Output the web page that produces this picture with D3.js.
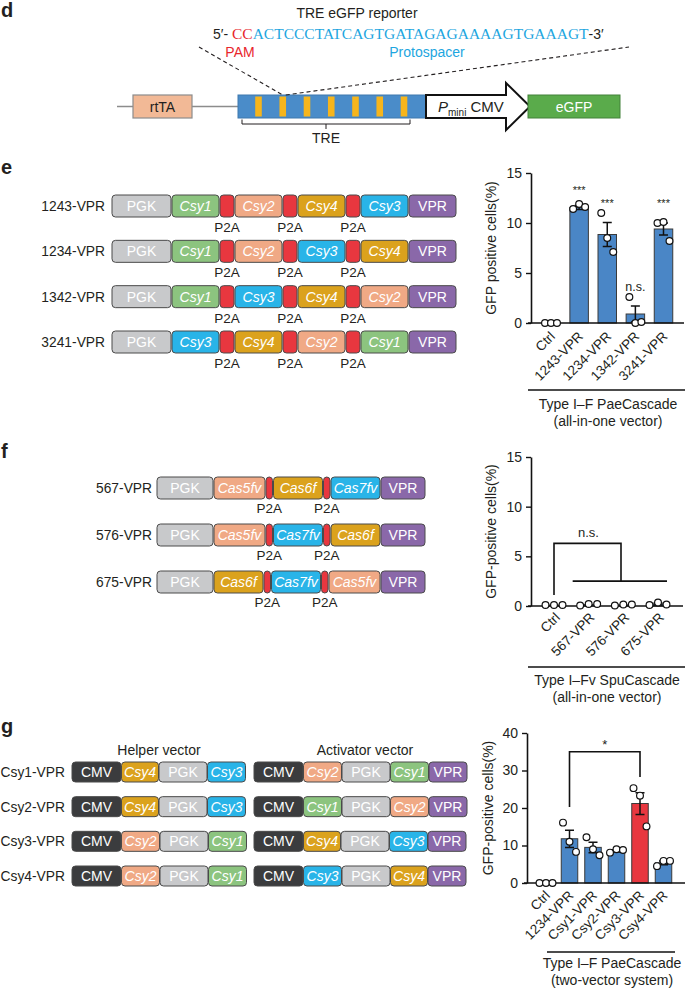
<!DOCTYPE html>
<html><head><meta charset="utf-8">
<script src="https://cdn.jsdelivr.net/npm/d3@7/dist/d3.min.js"></script>
<style>
html,body{margin:0;padding:0;background:#fff;}
svg{display:block;font-family:"Liberation Sans",Arial,sans-serif;}
</style></head><body>
<svg id="fig" width="685" height="989"></svg>
<script>
// ---------------- DATA ----------------
// Panel d
const seqPAM = "CC";
const seqProtospacer = "ACTCCCTATCAGTGATAGAGAAAAGTGAAAGT";
const treSites = [1, 2, 3, 4, 5, 6, 7];

// Panel e constructs
const eConstructNames = ["1243-VPR", "1234-VPR", "1342-VPR", "3241-VPR"];
const eConstructParts = [
  ["PGK", "Csy1", "P2A", "Csy2", "P2A", "Csy4", "P2A", "Csy3", "VPR"],
  ["PGK", "Csy1", "P2A", "Csy2", "P2A", "Csy3", "P2A", "Csy4", "VPR"],
  ["PGK", "Csy1", "P2A", "Csy3", "P2A", "Csy4", "P2A", "Csy2", "VPR"],
  ["PGK", "Csy3", "P2A", "Csy4", "P2A", "Csy2", "P2A", "Csy1", "VPR"]
];
// Panel e chart
const eCategories = ["Ctrl", "1243-VPR", "1234-VPR", "1342-VPR", "3241-VPR"];
const eMeans = [0, 11.55, 8.85, 0.9, 9.4];
const eErrors = [0, 0.2, 1.2, 0.8, 0.6];
const eDots = [[0, 0, 0], [11.4, 11.9, 11.6], [11.0, 8.5, 7.1], [2.6, 0, 0.1], [10.0, 10.1, 8.2]];
const eSignif = ["", "***", "***", "n.s.", "***"];
const eSignifLevel = [0, 13.3, 12.0, 3.6, 12.0];
const eTicks = [0, 5, 10, 15];

// Panel f constructs
const fConstructNames = ["567-VPR", "576-VPR", "675-VPR"];
const fConstructParts = [
  ["PGK", "Cas5fv", "P2A", "Cas6f", "P2A", "Cas7fv", "VPR"],
  ["PGK", "Cas5fv", "P2A", "Cas7fv", "P2A", "Cas6f", "VPR"],
  ["PGK", "Cas6f", "P2A", "Cas7fv", "P2A", "Cas5fv", "VPR"]
];
// Panel f chart
const fCategories = ["Ctrl", "567-VPR", "576-VPR", "675-VPR"];
const fMeans = [0.1, 0.15, 0.12, 0.2];
const fErrors = [0.02, 0.05, 0.05, 0.1];
const fDots = [[0.1, 0.1, 0.1], [0.05, 0.2, 0.2], [0.05, 0.15, 0.15], [0.1, 0.35, 0.15]];
const fTicks = [0, 5, 10, 15];
const fBracket = { top: 6.3, left: 1.1, right: 2.5, label: "n.s." };

// Panel g constructs
const gConstructNames = ["Csy1-VPR", "Csy2-VPR", "Csy3-VPR", "Csy4-VPR"];
const gHelperParts = [
  ["CMV", "Csy4", "PGK", "Csy3"],
  ["CMV", "Csy4", "PGK", "Csy3"],
  ["CMV", "Csy2", "PGK", "Csy1"],
  ["CMV", "Csy2", "PGK", "Csy1"]
];
const gActivatorParts = [
  ["CMV", "Csy2", "PGK", "Csy1", "VPR"],
  ["CMV", "Csy1", "PGK", "Csy2", "VPR"],
  ["CMV", "Csy4", "PGK", "Csy3", "VPR"],
  ["CMV", "Csy3", "PGK", "Csy4", "VPR"]
];
// Panel g chart
const gCategories = ["Ctrl", "1234-VPR", "Csy1-VPR", "Csy2-VPR", "Csy3-VPR", "Csy4-VPR"];
const gMeans = [0, 11.8, 9.5, 8.6, 21.2, 5.4];
const gErrors = [0, 2.3, 1.4, 0.3, 2.9, 0.5];
const gDots = [[0, 0, 0], [16.1, 11.0, 8.3], [12.2, 9.0, 7.4], [8.1, 9.0, 8.8], [25.3, 23.3, 15.1], [4.5, 5.9, 5.9]];
const gTicks = [0, 10, 20, 30, 40];
const gBracket = { top: 35, left: 20.3, right: 28.3, label: "*", labelLevel: 37.3 };

// ---------------- STYLE ----------------
const TXT = "#231f20";
const SERIF = "'Liberation Serif','Times New Roman',serif";
const partStyle = {
  PGK: { fill: "#c8c9cb", italic: false },
  CMV: { fill: "#3b3c3e", italic: false },
  VPR: { fill: "#8a68a9", italic: false },
  P2A: { fill: "#e8373f", italic: false, noText: true },
  Csy1: { fill: "#8cc47f", italic: true },
  Csy2: { fill: "#f0a985", italic: true },
  Csy4: { fill: "#dba21d", italic: true },
  Csy3: { fill: "#29b4e8", italic: true },
  Cas5fv: { fill: "#f0a985", italic: true },
  Cas6f: { fill: "#dba21d", italic: true },
  Cas7fv: { fill: "#29b4e8", italic: true }
};

const svg = d3.select("#fig");

function panelLetter(txt, x, y) {
  svg.append("text").attr("x", x).attr("y", y).text(txt)
    .attr("font-size", 20).attr("font-weight", "bold").attr("fill", TXT);
}

// ---------------- PANEL D ----------------
panelLetter("d", 1, 17);
const dG = svg.append("g");
dG.append("text").attr("x", 357).attr("y", 18).attr("text-anchor", "middle")
  .attr("font-size", 14).attr("fill", TXT).text("TRE eGFP reporter");
const seqT = dG.append("text").attr("x", 213).attr("y", 38.5).attr("font-size", 14).attr("fill", TXT);
seqT.append("tspan").text("5′- ");
seqT.append("tspan").attr("font-family", SERIF).attr("font-size", 15.5).attr("fill", "#e8262c").text(seqPAM);
seqT.append("tspan").attr("font-family", SERIF).attr("font-size", 15.5).attr("fill", "#1ea6e0").text(seqProtospacer);
seqT.append("tspan").text("-3′");
dG.append("text").attr("x", 240).attr("y", 57).attr("text-anchor", "middle").attr("font-size", 14)
  .attr("fill", "#e8262c").text("PAM");
dG.append("text").attr("x", 427).attr("y", 57).attr("text-anchor", "middle").attr("font-size", 14)
  .attr("fill", "#1ea6e0").text("Protospacer");

const dTop = 95, dH = 23, dMid = dTop + dH / 2;
// backbone
dG.append("line").attr("x1", 117).attr("x2", 238).attr("y1", dMid).attr("y2", dMid)
  .attr("stroke", "#8c8c8c").attr("stroke-width", 1.5);
// rtTA
dG.append("rect").attr("x", 133).attr("y", dTop).attr("width", 59).attr("height", dH)
  .attr("fill", "#f2b996").attr("stroke", "#8c8c8c").attr("stroke-width", 1.2);
dG.append("text").attr("x", 162.5).attr("y", dMid + 5).attr("text-anchor", "middle")
  .attr("font-size", 14).attr("fill", TXT).text("rtTA");
// TRE blue box
dG.append("rect").attr("x", 238).attr("y", dTop).attr("width", 188).attr("height", dH)
  .attr("fill", "#4a8cc9").attr("stroke", "#3f78ad").attr("stroke-width", 1);
const siteX = d3.scalePoint().domain(treSites).range([258.5, 404]);
dG.selectAll("rect.site").data(treSites).join("rect").attr("class", "site")
  .attr("x", d => siteX(d) - 3.3).attr("y", dTop + 1.5).attr("width", 6.6).attr("height", dH - 3)
  .attr("fill", "#f6b51c");
// arrow
const aX0 = 426, aX1 = 506, aTip = 530;
dG.append("path")
  .attr("d", `M${aX0},${dTop} H${aX1} V${dTop - 12} L${aTip},${dMid} L${aX1},${dTop + dH + 12} V${dTop + dH} H${aX0} Z`)
  .attr("fill", "#fff").attr("stroke", "#111").attr("stroke-width", 2).attr("stroke-linejoin", "miter");
const pt = dG.append("text").attr("x", 438).attr("y", dMid + 5).attr("font-size", 15).attr("fill", TXT);
pt.append("tspan").attr("font-style", "italic").text("P");
pt.append("tspan").attr("font-size", 10).attr("dy", 4).text("mini");
pt.append("tspan").attr("dy", -4).text(" CMV");
// eGFP
dG.append("rect").attr("x", 528).attr("y", dTop).attr("width", 92).attr("height", dH)
  .attr("fill", "#5aab4b").attr("stroke", "#43813a").attr("stroke-width", 1);
dG.append("text").attr("x", 574).attr("y", dMid + 5).attr("text-anchor", "middle")
  .attr("font-size", 14).attr("fill", "#fff").text("eGFP");
// bracket TRE
dG.append("path").attr("d", "M242,119.5 V124 H410 V119.5 M326,124 V129")
  .attr("fill", "none").attr("stroke", TXT).attr("stroke-width", 1);
dG.append("text").attr("x", 326).attr("y", 143).attr("text-anchor", "middle")
  .attr("font-size", 14).attr("fill", TXT).text("TRE");
// dashed zoom lines
dG.append("line").attr("x1", 199).attr("y1", 47).attr("x2", siteX(2)).attr("y2", dTop)
  .attr("stroke", TXT).attr("stroke-width", 1.1).attr("stroke-dasharray", "4,3");
dG.append("line").attr("x1", siteX(2) + 3).attr("y1", dTop).attr("x2", 629).attr("y2", 47)
  .attr("stroke", TXT).attr("stroke-width", 1.1).attr("stroke-dasharray", "4,3");

// ---------------- construct drawing ----------------
function drawConstruct(g, parts, x0, yc, h, widths, gap, fontSize, p2aLabelY) {
  let x = x0;
  parts.forEach(p => {
    const w = widths[p];
    const st = partStyle[p];
    g.append("rect").attr("x", x).attr("y", yc - h / 2).attr("width", w).attr("height", h)
      .attr("rx", 3.5).attr("ry", 3.5).attr("fill", st.fill).attr("stroke", "#4a4a4a").attr("stroke-width", 1);
    if (!st.noText) {
      g.append("text").attr("x", x + w / 2).attr("y", yc + fontSize * 0.36).attr("text-anchor", "middle")
        .attr("font-size", fontSize).attr("font-style", st.italic ? "italic" : "normal")
        .attr("fill", "#fff").text(p);
    } else if (p2aLabelY != null) {
      g.append("text").attr("x", x + w / 2).attr("y", yc + p2aLabelY).attr("text-anchor", "middle")
        .attr("font-size", 13.5).attr("fill", TXT).text("P2A");
    }
    x += w + gap;
  });
}

// ---------------- PANEL E constructs ----------------
panelLetter("e", 1, 174);
const eRowY = d3.scalePoint().domain(eConstructNames).range([206, 342]);
const eWidths = { PGK: 59, Csy1: 47, Csy2: 47, Csy3: 47, Csy4: 47, P2A: 14, VPR: 47 };
eConstructNames.forEach((n, i) => {
  const yc = eRowY(n);
  svg.append("text").attr("x", 105).attr("y", yc + 5).attr("text-anchor", "end")
    .attr("font-size", 13.8).attr("fill", TXT).text(n);
  drawConstruct(svg, eConstructParts[i], 112, yc, 22, eWidths, 1, 14, 26);
});

// ---------------- PANEL F constructs ----------------
panelLetter("f", 1, 458);
const fRowY = d3.scalePoint().domain(fConstructNames).range([488, 582]);
const fWidths = { PGK: 56, Cas5fv: 51, Cas6f: 49, Cas7fv: 49, P2A: 6.5, VPR: 44 };
fConstructNames.forEach((n, i) => {
  const yc = fRowY(n);
  svg.append("text").attr("x", 152).attr("y", yc + 5).attr("text-anchor", "end")
    .attr("font-size", 13.8).attr("fill", TXT).text(n);
  drawConstruct(svg, fConstructParts[i], 157, yc, 22, fWidths, 1, 14, 25);
});

// ---------------- PANEL G constructs ----------------
panelLetter("g", 1, 733);
svg.append("text").attr("x", 159).attr("y", 755).attr("text-anchor", "middle")
  .attr("font-size", 14).attr("fill", TXT).text("Helper vector");
svg.append("text").attr("x", 365).attr("y", 755).attr("text-anchor", "middle")
  .attr("font-size", 14).attr("fill", TXT).text("Activator vector");
const gRowY = d3.scalePoint().domain(gConstructNames).range([772, 876]);
const gWidths = { CMV: 49, PGK: 48, Csy1: 38, Csy2: 38, Csy3: 38, Csy4: 37, VPR: 38 };
gConstructNames.forEach((n, i) => {
  const yc = gRowY(n);
  svg.append("text").attr("x", 65).attr("y", yc + 5).attr("text-anchor", "end")
    .attr("font-size", 13.8).attr("fill", TXT).text(n);
  drawConstruct(svg, gHelperParts[i], 72, yc, 20, gWidths, 0.5, 14, null);
  drawConstruct(svg, gActivatorParts[i], 254, yc, 20, gWidths, 0.5, 14, null);
});

// ---------------- bar chart ----------------
function barChart(cfg) {
  const g = svg.append("g");
  const y = d3.scaleLinear().domain([0, cfg.ticks[cfg.ticks.length - 1]]).range([cfg.y0, cfg.yTop]);
  const x = d3.scalePoint().domain(cfg.categories).range(cfg.xRange);
  // bars
  g.selectAll("rect.bar").data(cfg.categories).join("rect").attr("class", "bar")
    .attr("x", d => x(d) - cfg.barW / 2)
    .attr("y", (d, i) => y(cfg.means[i]))
    .attr("width", cfg.barW)
    .attr("height", (d, i) => y(0) - y(cfg.means[i]))
    .attr("fill", (d, i) => cfg.colors[i])
    .attr("stroke", "#3a3a3a").attr("stroke-width", 1);
  // error bars
  cfg.categories.forEach((c, i) => {
    if (cfg.errors[i] <= 0.05) return;
    const cx = x(c), lo = y(cfg.means[i] - cfg.errors[i]), hi = y(cfg.means[i] + cfg.errors[i]);
    g.append("path").attr("d", `M${cx},${lo} V${hi} M${cx - 4.5},${hi} H${cx + 4.5} M${cx - 4.5},${lo} H${cx + 4.5}`)
      .attr("stroke", "#111").attr("stroke-width", 1.5).attr("fill", "none");
  });
  // axes lines
  g.append("line").attr("x1", cfg.xLine[0]).attr("x2", cfg.xLine[1]).attr("y1", cfg.y0).attr("y2", cfg.y0)
    .attr("stroke", "#111").attr("stroke-width", 1.6);
  const ya = g.append("g").attr("transform", `translate(${cfg.yAxisX},0)`)
    .call(d3.axisLeft(y).tickValues(cfg.ticks).tickSize(5).tickSizeOuter(0).tickPadding(4));
  ya.select(".domain").attr("stroke", "#111").attr("stroke-width", 1.6);
  ya.selectAll(".tick line").attr("stroke", "#111").attr("stroke-width", 1.4);
  ya.selectAll(".tick text").attr("font-size", 14).attr("fill", TXT)
    .attr("font-family", "'Liberation Sans',Arial,sans-serif");
  // dots
  cfg.categories.forEach((c, i) => {
    cfg.dots[i].forEach((v, j) => {
      g.append("circle").attr("cx", x(c) + (j - 1) * cfg.dotDx).attr("cy", y(v)).attr("r", 3.4)
        .attr("fill", "#fff").attr("stroke", "#111").attr("stroke-width", 1.2);
    });
  });
  // x labels
  const xa = g.append("g").attr("transform", `translate(0,${cfg.y0})`)
    .call(d3.axisBottom(x).tickSize(0).tickPadding(0));
  xa.select(".domain").remove();
  xa.selectAll(".tick text").attr("font-size", 13.5).attr("fill", TXT)
    .attr("font-family", "'Liberation Sans',Arial,sans-serif")
    .attr("text-anchor", "end").attr("dy", "0.35em").attr("y", 0)
    .attr("transform", `translate(${cfg.labelOff[0]},${cfg.labelOff[1]}) rotate(-45)`);
  // y label
  g.append("text").attr("transform", `translate(${cfg.yLabelX},${(cfg.y0 + cfg.yTop) / 2}) rotate(-90)`)
    .attr("text-anchor", "middle").attr("font-size", 14).attr("fill", TXT).text(cfg.yLabel);
  // group label
  g.append("line").attr("x1", cfg.groupLine[0]).attr("x2", cfg.groupLine[1])
    .attr("y1", cfg.groupY).attr("y2", cfg.groupY).attr("stroke", "#111").attr("stroke-width", 1.6);
  cfg.groupText.forEach((t, k) => {
    g.append("text").attr("x", cfg.groupTextX).attr("y", cfg.groupY + cfg.groupGap + k * 17)
      .attr("text-anchor", "middle").attr("font-size", 14).attr("fill", TXT).text(t);
  });
  return { g, x, y };
}

// ---------------- PANEL E chart ----------------
const eC = barChart({
  categories: eCategories, means: eMeans, errors: eErrors, dots: eDots, ticks: eTicks,
  colors: eCategories.map(() => "#4a86c6"),
  y0: 323, yTop: 173, xRange: [551, 663.5], barW: 18.5, dotDx: 6,
  xLine: [528, 684], yAxisX: 531, yLabelX: 496, yLabel: "GFP positive cells(%)",
  labelOff: [1, 11],
  groupLine: [528, 685], groupY: 390, groupGap: 19, groupTextX: 608,
  groupText: ["Type I–F PaeCascade", "(all-in-one vector)"]
});
eCategories.forEach((c, i) => {
  if (!eSignif[i]) return;
  eC.g.append("text").attr("x", eC.x(c)).attr("y", eC.y(eSignifLevel[i]) + 4)
    .attr("text-anchor", "middle").attr("font-size", eSignif[i] === "n.s." ? 12.5 : 11)
    .attr("fill", TXT).text(eSignif[i]);
});

// ---------------- PANEL F chart ----------------
const fC = barChart({
  categories: fCategories, means: fMeans, errors: fErrors, dots: fDots, ticks: fTicks,
  colors: fCategories.map(() => "#4a86c6"),
  y0: 606, yTop: 457, xRange: [554, 658], barW: 18, dotDx: 8.5,
  xLine: [528, 683], yAxisX: 531, yLabelX: 496, yLabel: "GFP-positive cells(%)",
  labelOff: [3, 9],
  groupLine: [528, 685], groupY: 667, groupGap: 18, groupTextX: 607,
  groupText: ["Type I–Fv SpuCascade", "(all-in-one vector)"]
});
{
  const xl = fC.x("Ctrl"), xr = (fC.x("576-VPR") + fC.x("567-VPR")) / 2 + 15;
  const lx0 = fC.x("567-VPR") - 16, lx1 = fC.x("675-VPR") + 9;
  fC.g.append("path")
    .attr("d", `M${xl},${fC.y(fBracket.left)} V${fC.y(fBracket.top)} H${xr} V${fC.y(fBracket.right)} M${lx0},${fC.y(fBracket.right)} H${lx1}`)
    .attr("fill", "none").attr("stroke", "#111").attr("stroke-width", 1.6);
  fC.g.append("text").attr("x", (xl + xr) / 2 + 1).attr("y", fC.y(fBracket.top) - 6)
    .attr("text-anchor", "middle").attr("font-size", 13).attr("fill", TXT).text(fBracket.label);
}

// ---------------- PANEL G chart ----------------
const gC = barChart({
  categories: gCategories, means: gMeans, errors: gErrors, dots: gDots, ticks: gTicks,
  colors: gCategories.map(c => c === "Csy3-VPR" ? "#e8373f" : "#4a86c6"),
  y0: 883, yTop: 733, xRange: [546, 663.5], barW: 16.5, dotDx: 6.5,
  xLine: [524, 685], yAxisX: 527, yLabelX: 493, yLabel: "GFP-positive cells(%)",
  labelOff: [1, 10],
  groupLine: [547, 675], groupY: 952, groupGap: 16, groupTextX: 612,
  groupText: ["Type I–F PaeCascade", "(two-vector system)"]
});
{
  const xl = gC.x("1234-VPR"), xr = gC.x("Csy3-VPR");
  gC.g.append("path")
    .attr("d", `M${xl},${gC.y(gBracket.left)} V${gC.y(gBracket.top)} H${xr} V${gC.y(gBracket.right)}`)
    .attr("fill", "none").attr("stroke", "#111").attr("stroke-width", 1.6);
  gC.g.append("text").attr("x", (xl + xr) / 2).attr("y", gC.y(gBracket.labelLevel) + 6)
    .attr("text-anchor", "middle").attr("font-size", 13).attr("fill", TXT).text(gBracket.label);
}
</script>
</body></html>
